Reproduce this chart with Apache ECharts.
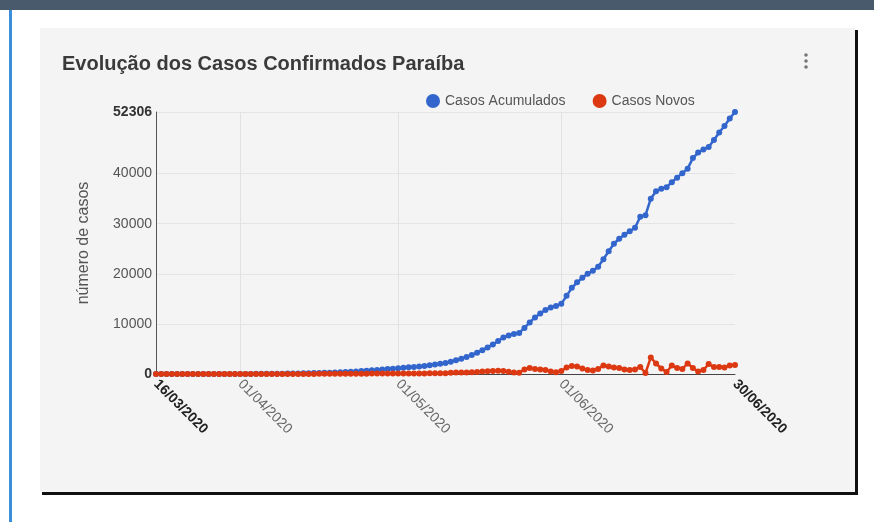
<!DOCTYPE html>
<html>
<head>
<meta charset="utf-8">
<script src="https://cdn.jsdelivr.net/npm/echarts@6/dist/echarts.min.js"></script>
<style>
  html, body { margin: 0; padding: 0; background: #fff; }
  #chart { width: 874px; height: 522px; }
</style>
</head>
<body>
<div id="chart"></div>
<script>
// Day labels dd/mm/2020 for a run of consecutive days in one month
function dayLabels(first, last, month) {
  const out = [];
  for (let d = first; d <= last; d++) {
    out.push(String(d).padStart(2, '0') + '/' + String(month).padStart(2, '0') + '/2020');
  }
  return out;
}

// Report rows for June (some days carry two bulletins)
const juneRows = [
  '01/06/2020','02/06/2020','03/06/2020','04/06/2020','05/06/2020','06/06/2020','07/06/2020','07/06/2020',
  '08/06/2020','09/06/2020','10/06/2020','11/06/2020','12/06/2020','13/06/2020','14/06/2020','14/06/2020',
  '15/06/2020','16/06/2020','17/06/2020','18/06/2020','19/06/2020','20/06/2020','21/06/2020','21/06/2020',
  '22/06/2020','23/06/2020','24/06/2020','25/06/2020','26/06/2020','27/06/2020','28/06/2020','28/06/2020',
  '29/06/2020','30/06/2020'
];

const dates = [].concat(dayLabels(16, 31, 3), dayLabels(1, 30, 4), dayLabels(1, 31, 5), juneRows);

// Casos Acumulados
const acumulados = [
  0, 0, 1, 1, 1, 1, 1, 1, 2, 3, 5, 9, 12, 14, 15, 17,
  18, 20, 23, 28, 32, 41, 50, 56, 63, 77, 92, 113, 131, 151, 175,
  200, 230, 263, 300, 345, 400, 460, 520, 590, 660, 740, 820, 900, 980, 1060, 1160,
  1250, 1330, 1420, 1500, 1620, 1760, 1900, 2050, 2200, 2450, 2750, 3050, 3400, 3800,
  4250, 4750, 5300, 5900, 6600, 7300, 7700, 8000, 8200, 9200,
  10300, 11300, 12100, 12800, 13300, 13600,
  14000, 15600, 17200, 18300, 19200, 20000, 20600, 21400, 22900, 24500,
  26000, 27000, 27800, 28500, 29200, 31400, 31700, 35000, 36500, 37000,
  37300, 38300, 39200, 40100, 41000, 43100, 44200, 44800, 45300, 46700,
  48200, 49500, 51000, 52306
];

// Casos Novos
const novos = [
  0, 0, 1, 0, 0, 0, 0, 0, 1, 1, 2, 4, 3, 2, 1, 2,
  1, 2, 3, 5, 4, 9, 9, 6, 7, 14, 15, 21, 18, 20, 24,
  25, 30, 33, 37, 45, 55, 60, 60, 70, 70, 80, 80, 80, 80, 80, 90,
  100, 80, 90, 80, 120, 140, 140, 160, 140, 250, 300, 280, 300, 350,
  420, 500, 550, 600, 650, 600, 450, 300, 250, 900,
  1200, 1000, 900, 800, 500, 350,
  600, 1300, 1600, 1500, 1100, 800, 700, 1000, 1700, 1500,
  1300, 1200, 900, 800, 900, 1400, 200, 3300, 2100, 1100,
  400, 1700, 1200, 1000, 2100, 1200, 500, 800, 2000, 1400,
  1400, 1300, 1700, 1800
];

// Labelled positions along the date axis and the value axis
const dateTickIdx = [0, 16, 46, 77, 110];
const dateGridIdx = [16, 46, 77];
const valueTicks = [0, 10000, 20000, 30000, 40000, 52306];

const FONT = '"Liberation Sans", Arial, sans-serif';

const chart = echarts.init(document.getElementById('chart'), null, { renderer: 'canvas' });

chart.setOption({
  backgroundColor: '#ffffff',
  animation: false,
  textStyle: { fontFamily: FONT },
  graphic: [
    // header strip
    { type: 'rect', z: -20, shape: { x: 0, y: 0, width: 874, height: 10 }, style: { fill: '#4a5a6d' } },
    // left accent line
    { type: 'rect', z: -20, shape: { x: 9, y: 10, width: 3, height: 512 }, style: { fill: '#3b8ed8' } },
    // card shadow and card
    { type: 'rect', z: -20, shape: { x: 42, y: 30, width: 816, height: 465 }, style: { fill: '#111' } },
    { type: 'rect', z: -19, shape: { x: 40, y: 28, width: 815, height: 464 }, style: { fill: '#f4f4f4' } },
    // menu dots
    { type: 'circle', z: 10, shape: { cx: 806, cy: 55, r: 1.8 }, style: { fill: '#777' } },
    { type: 'circle', z: 10, shape: { cx: 806, cy: 61, r: 1.8 }, style: { fill: '#777' } },
    { type: 'circle', z: 10, shape: { cx: 806, cy: 67, r: 1.8 }, style: { fill: '#777' } }
  ],
  title: {
    text: 'Evolução dos Casos Confirmados Paraíba',
    left: 57,
    top: 49,
    textStyle: { fontFamily: FONT, fontSize: 20, fontWeight: 'bold', color: '#3a3a3a' }
  },
  legend: {
    left: 421,
    top: 89,
    icon: 'circle',
    itemWidth: 14,
    itemHeight: 14,
    itemGap: 27,
    textStyle: { fontFamily: FONT, fontSize: 14, color: '#555' },
    data: ['Casos Acumulados', 'Casos Novos']
  },
  grid: { left: 156, right: 139, top: 112, bottom: 148, containLabel: false },
  xAxis: {
    type: 'category',
    data: dates,
    boundaryGap: false,
    axisLine: { show: true, lineStyle: { color: '#444', width: 1 } },
    axisTick: { show: false },
    axisLabel: {
      interval: function (index) { return dateTickIdx.indexOf(index) >= 0; },
      rotate: -45,
      margin: 8,
      fontFamily: FONT,
      fontSize: 14,
      formatter: function (value, index) {
        return (index === 0 || index === dates.length - 1) ? '{edge|' + value + '}' : '{mid|' + value + '}';
      },
      rich: {
        edge: { fontFamily: FONT, fontSize: 14, fontWeight: 'bold', color: '#222' },
        mid: { fontFamily: FONT, fontSize: 14, color: '#666' }
      }
    },
    splitLine: {
      show: true,
      interval: function (index) { return dateGridIdx.indexOf(index) >= 0; },
      lineStyle: { color: '#e2e2e2', width: 1 }
    }
  },
  yAxis: {
    type: 'value',
    min: 0,
    max: 52306,
    name: 'número de casos',
    nameLocation: 'middle',
    nameGap: 64,
    nameTextStyle: { fontFamily: FONT, fontSize: 16, color: '#555' },
    axisLine: { show: true, lineStyle: { color: '#555', width: 1 } },
    axisTick: { show: false, customValues: valueTicks },
    axisLabel: {
      customValues: valueTicks,
      margin: 4,
      fontFamily: FONT,
      fontSize: 14,
      formatter: function (v) {
        return (v === 0 || v === 52306) ? '{edge|' + v + '}' : '{mid|' + v + '}';
      },
      rich: {
        edge: { fontFamily: FONT, fontSize: 14, fontWeight: 'bold', color: '#333' },
        mid: { fontFamily: FONT, fontSize: 14, color: '#555' }
      }
    },
    splitLine: { show: true, lineStyle: { color: '#e4e4e4', width: 1 } }
  },
  series: [
    {
      name: 'Casos Acumulados',
      type: 'line',
      data: acumulados,
      color: '#3366cc',
      symbol: 'circle',
      symbolSize: 6,
      showAllSymbol: true,
      lineStyle: { width: 2.5, color: '#3366cc' },
      itemStyle: { color: '#3366cc' },
      z: 3
    },
    {
      name: 'Casos Novos',
      type: 'line',
      data: novos,
      color: '#dc3912',
      symbol: 'circle',
      symbolSize: 6,
      showAllSymbol: true,
      lineStyle: { width: 2.5, color: '#dc3912' },
      itemStyle: { color: '#dc3912' },
      z: 4
    }
  ]
});
</script>
</body>
</html>
